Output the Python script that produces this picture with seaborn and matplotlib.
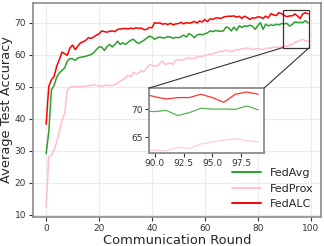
import numpy as np
import pandas as pd
import matplotlib
matplotlib.use("Agg")
import matplotlib.pyplot as plt
import seaborn as sns
from matplotlib.patches import Rectangle, ConnectionPatch

rounds = list(range(100))
fedavg = [29.1, 36.0, 49.0, 50.4, 53.0, 54.3, 55.1, 55.9, 58.0, 58.8,
          58.7, 58.2, 59.0, 59.2, 59.3, 59.5, 59.8, 60.0, 60.6, 61.6,
          62.4, 62.4, 61.3, 62.5, 63.2, 62.4, 63.2, 64.2, 63.2, 63.7,
          63.2, 63.9, 64.5, 64.8, 64.0, 63.5, 64.0, 64.5, 65.1, 65.8,
          65.5, 64.8, 65.3, 65.5, 65.2, 65.3, 65.6, 65.5, 65.1, 65.4,
          65.3, 65.6, 66.1, 65.5, 66.6, 66.1, 65.3, 66.1, 66.4, 66.2,
          66.5, 66.8, 67.4, 67.2, 67.5, 67.4, 67.3, 67.4, 68.6, 68.4,
          67.4, 68.6, 67.6, 69.0, 68.5, 69.0, 68.8, 69.2, 68.9, 67.9,
          69.0, 70.0, 67.9, 69.5, 69.0, 69.3, 69.1, 69.5, 69.3, 69.7,
          69.6, 69.8, 68.9, 69.4, 70.2, 70.05, 70.05, 70.0, 70.6, 69.9]
fedprox = [12.4, 28.1, 28.6, 30.2, 32.8, 36.0, 39.6, 41.7, 49.0, 49.8,
           50.1, 50.0, 49.9, 50.0, 50.2, 50.1, 50.3, 50.4, 50.6, 50.4,
           50.3, 50.1, 50.4, 50.5, 50.3, 50.4, 50.6, 51.2, 51.7, 52.2,
           52.7, 53.6, 53.0, 54.6, 54.0, 54.3, 55.0, 54.6, 55.9, 56.9,
           56.7, 56.5, 56.4, 57.4, 58.0, 56.9, 57.2, 57.4, 56.9, 58.2,
           58.5, 58.3, 58.5, 58.8, 59.0, 58.7, 58.8, 59.3, 59.5, 59.4,
           59.8, 60.0, 60.3, 60.1, 60.6, 60.8, 61.1, 61.0, 61.4, 61.2,
           61.0, 61.3, 61.6, 61.5, 61.9, 61.8, 62.1, 61.9, 61.6, 61.8,
           61.9, 61.7, 61.6, 61.9, 62.1, 62.0, 62.4, 62.2, 62.4, 62.5,
           62.7, 62.6, 63.2, 63.0, 63.8, 64.2, 64.5, 64.75, 64.4, 64.2]
fedalc = [38.3, 50.1, 52.2, 53.2, 56.4, 58.5, 60.8, 60.3, 59.8, 62.1,
          63.0, 61.6, 62.7, 63.7, 64.0, 64.5, 65.3, 65.1, 65.5, 66.1,
          66.5, 67.4, 67.2, 67.0, 67.3, 67.4, 67.2, 67.9, 68.0, 68.1,
          68.2, 68.0, 68.3, 68.1, 68.4, 68.2, 68.3, 67.8, 67.9, 68.5,
          68.4, 70.0, 69.8, 69.9, 69.5, 69.7, 69.4, 69.8, 69.3, 69.6,
          69.7, 70.1, 69.6, 70.0, 69.8, 70.0, 70.4, 69.9, 70.5, 70.2,
          71.0, 70.3, 71.2, 71.0, 71.4, 71.5, 71.3, 71.7, 71.9, 72.0,
          72.0, 72.1, 71.7, 72.0, 71.3, 72.0, 71.6, 71.0, 71.5, 71.4,
          71.8, 71.7, 71.3, 72.0, 71.5, 72.8, 72.4, 72.2, 73.1, 72.8,
          72.25, 71.85, 72.1, 72.1, 72.7, 72.1, 71.25, 72.7, 73.1, 72.7]

series_names = ["FedAvg", "FedProx", "FedALC"]
series_colors = ["#2ca02c", "pink", "red"]
inset_xlim = (89.5, 99.5)
inset_ylim = (62.2, 73.8)

df = pd.DataFrame({"Round": rounds * 3,
                   "Accuracy": fedavg + fedprox + fedalc,
                   "Method": sum([[n] * len(rounds) for n in series_names], [])})

sns.set_theme(style="whitegrid")
plt.rcParams.update({
    "font.family": ["DejaVu Sans"],
    "axes.edgecolor": "0.55",
    "axes.linewidth": 1.2,
    "xtick.bottom": True, "ytick.left": True,
    "xtick.color": "0.2", "ytick.color": "0.2",
    "xtick.major.size": 3, "ytick.major.size": 3,
    "xtick.major.width": 0.8, "ytick.major.width": 0.8,
    "grid.color": "0.92", "grid.linewidth": 0.8,
})

fig = plt.figure(figsize=(3.24, 2.46), dpi=100)
ax = fig.add_axes([0.102, 0.118, 0.889, 0.870])
palette = dict(zip(series_names, series_colors))
sns.lineplot(data=df, x="Round", y="Accuracy", hue="Method", palette=palette,
             ax=ax, linewidth=1.1, legend=True)
ax.set_xlabel("Communication Round", fontsize=9.4, labelpad=1)
ax.set_ylabel("Average Test Accuracy", fontsize=9.4, labelpad=1)
ax.tick_params(labelsize=6.5, pad=2)
ax.set_yticks([10, 20, 30, 40, 50, 60, 70])
ax.set_xticks([0, 20, 40, 60, 80, 100])
leg = ax.legend(loc="lower right", frameon=False, fontsize=8, handlelength=2.6,
                borderaxespad=0.3, labelspacing=0.5)
for h in leg.get_lines():
    h.set_linewidth(1.4)

axins = fig.add_axes([0.46, 0.378, 0.355, 0.264])
sns.lineplot(data=df[df["Round"] >= 89], x="Round", y="Accuracy", hue="Method",
             palette=palette, ax=axins, linewidth=0.9, legend=False, alpha=0.8)
axins.set_xlim(*inset_xlim)
axins.set_ylim(*inset_ylim)
axins.set_xticks([90.0, 92.5, 95.0, 97.5])
axins.set_yticks([65, 70])
axins.set_xlabel("")
axins.set_ylabel("")
axins.grid(False)
axins.tick_params(labelsize=6.5, pad=1.5)
for s in axins.spines.values():
    s.set_edgecolor("0.55")
    s.set_linewidth(1.3)

rect = Rectangle((inset_xlim[0], inset_ylim[0]), inset_xlim[1] - inset_xlim[0],
                 inset_ylim[1] - inset_ylim[0], fill=False, edgecolor="0.2",
                 linewidth=0.9, zorder=5)
ax.add_patch(rect)
for xa, xf in [(inset_xlim[0], 0), (inset_xlim[1], 1)]:
    cp = ConnectionPatch(xyA=(xa, inset_ylim[0]), coordsA=ax.transData,
                         xyB=(xf, 1), coordsB=axins.transAxes,
                         color="0.2", linewidth=0.8)
    fig.add_artist(cp)

fig.savefig("out.png", dpi=100)
